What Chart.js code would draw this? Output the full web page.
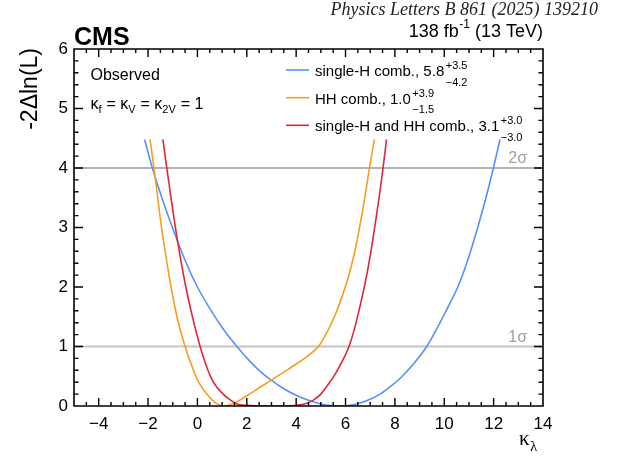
<!DOCTYPE html>
<html><head><meta charset="utf-8">
<script src="https://cdn.jsdelivr.net/npm/chart.js@4"></script>
<style>html,body{margin:0;padding:0;background:#fff}#wrap{width:617px;height:456px}</style>
</head><body><div id="wrap"><canvas id="c" width="617" height="456"></canvas></div>
<script>
const xTicks = [-4,-2,0,2,4,6,8,10,12,14];
const yTicks = [0,1,2,3,4,5,6];
const sigmaLevels = [1,4];
const sigmaLabels = ['1σ','2σ'];

const singleHX = [-2.14,-1.84,-1.4,-0.95,-0.5,0.0,0.5,1.0,1.6,2.13,2.6,3.0,3.5,4.0,4.5,5.0,5.4,5.8,6.3,6.8,7.4,7.8,8.3,8.8,9.29,9.7,10.1,10.57,10.95,11.34,11.67,11.99,12.26];
const singleHY = [4.48,4.02,3.45,2.93,2.45,2.0,1.64,1.32,1.0,0.75,0.56,0.43,0.29,0.18,0.095,0.035,0.008,0.0,0.02,0.08,0.2,0.32,0.5,0.73,1.0,1.3,1.62,2.02,2.45,2.98,3.47,4.0,4.48];
const hhX = [-1.92,-1.76,-1.46,-1.25,-1.07,-0.8,-0.5,-0.25,-0.02,0.2,0.38,0.6,0.8,1.0,1.2,1.45,1.8,2.13,2.54,3.01,3.5,4.02,4.5,4.9,5.2,5.58,5.85,6.09,6.35,6.56,6.76,6.97,7.17];
const hhY = [4.48,4.0,3.02,2.45,2.0,1.45,1.0,0.7,0.46,0.3,0.2,0.1,0.035,0.0,0.008,0.04,0.12,0.205,0.315,0.44,0.57,0.71,0.85,1.0,1.2,1.53,1.83,2.13,2.55,2.98,3.45,4.0,4.48];
const combX = [-1.40,-1.24,-1.07,-0.90,-0.70,-0.47,-0.18,0.11,0.33,0.56,0.78,0.99,1.3,1.6,2.0,2.5,3.1,3.7,4.1,4.43,4.7,5.0,5.24,5.5,5.8,6.14,6.35,6.52,6.82,7.03,7.18,7.36,7.52,7.66];
const combY = [4.48,4.0,3.5,3.02,2.52,2.0,1.46,1.0,0.71,0.47,0.32,0.22,0.11,0.035,0.01,0.002,0.0,0.003,0.015,0.045,0.1,0.2,0.33,0.48,0.7,1.0,1.28,1.56,2.12,2.6,3.0,3.5,4.0,4.48];

const legendNames = ['single-H comb., 5.8','HH comb., 1.0','single-H and HH comb., 3.1'];
const errUp = ['+3.5','+3.9','+3.0'];
const errDown = ['\u22124.2','\u22121.5','\u22123.0'];
const colors = {singleH:'#5790fc', hh:'#f89c20', comb:'#e42536'};

const FONT = '"Liberation Sans", Arial, Helvetica, sans-serif';
const SERIF = '"Liberation Serif", "Times New Roman", serif';
const pts = (xs, ys) => xs.map((x,i)=>({x, y: ys[i]}));

const curveDatasets = [
  {label:'comb', data: pts(combX, combY), borderColor: colors.comb},
  {label:'hh', data: pts(hhX, hhY), borderColor: colors.hh},
  {label:'singleH', data: pts(singleHX, singleHY), borderColor: colors.singleH},
].map(d => Object.assign(d, {borderWidth:1.6, pointRadius:0, fill:false, cubicInterpolationMode:'monotone'}));
const legendOrder = ['singleH','hh','comb'];

const sigmaDatasets = sigmaLevels.map((lv, i) => ({
  label: sigmaLabels[i], data: [{x:-5,y:lv},{x:14,y:lv}],
  borderColor: lv === 4 ? '#9c9c9c' : '#c4c4c4', borderWidth: lv === 4 ? 1.3 : 2, pointRadius:0, tension:0
}));

function drawFrame(chart) {
  const ctx = chart.ctx;
  const xs = chart.scales.x, ys = chart.scales.y;
  const L = xs.getPixelForValue(-5), R = xs.getPixelForValue(14);
  const T = ys.getPixelForValue(6), B = ys.getPixelForValue(0);
  ctx.save();
  ctx.strokeStyle = '#000000';
  ctx.setLineDash([]);
  ctx.lineWidth = 1.4;
  ctx.beginPath();
  for (let k = 1; k < 38; k++) {
    const v = -5 + k * 0.5;
    const px = xs.getPixelForValue(v);
    const len = xTicks.indexOf(v) >= 0 ? 8 : 4;
    ctx.moveTo(px, B); ctx.lineTo(px, B - len);
    ctx.moveTo(px, T); ctx.lineTo(px, T + len);
  }
  for (let k = 1; k < 30; k++) {
    const py = ys.getPixelForValue(k * 0.2);
    const len = (k % 5 === 0) ? 9 : 4.5;
    ctx.moveTo(L, py); ctx.lineTo(L + len, py);
    ctx.moveTo(R, py); ctx.lineTo(R - len, py);
  }
  ctx.stroke();
  ctx.lineWidth = 1.6;
  ctx.beginPath();
  ctx.moveTo(L, T); ctx.lineTo(R, T); ctx.lineTo(R, B); ctx.lineTo(L, B); ctx.closePath();
  ctx.stroke();
  ctx.restore();
}

function txt(ctx, s, x, y, font, color, align) {
  ctx.font = font; ctx.fillStyle = color || '#000'; ctx.textAlign = align || 'left'; ctx.textBaseline = 'alphabetic';
  ctx.fillText(s, x, y);
  return ctx.measureText(s).width;
}

const decorations = {
  id: 'decorations',
  afterDraw(chart) {
    const ctx = chart.ctx;
    drawFrame(chart);
    const ys = chart.scales.y;
    sigmaLevels.forEach((lv, i) => {
      txt(ctx, sigmaLabels[i], 527, ys.getPixelForValue(lv) - 5, '16px ' + FONT, '#a0a0a0', 'right');
    });
    txt(ctx, 'Physics Letters B 861 (2025) 139210', 598, 15, 'italic 18px ' + SERIF, '#222', 'right');
    txt(ctx, 'CMS', 74, 45, 'bold 25px ' + FONT, '#000', 'left');
    ctx.font = '18px ' + FONT;
    const p3 = ' (13 TeV)', p1 = '138 fb';
    const w3 = ctx.measureText(p3).width, w1 = ctx.measureText(p1).width;
    ctx.font = '12px ' + FONT;
    const w2 = ctx.measureText('-1').width;
    const xr = 543 - w3;
    txt(ctx, p3, xr, 36.7, '18px ' + FONT);
    txt(ctx, '-1', xr - w2, 27.5, '12px ' + FONT);
    txt(ctx, p1, xr - w2 - w1 - 0.5, 36.7, '18px ' + FONT);
    ctx.save();
    ctx.translate(37, 48); ctx.rotate(-Math.PI / 2);
    txt(ctx, '-2\u0394ln(L)', 0, 0, '23px ' + FONT, '#000', 'right');
    ctx.restore();
    const wk = txt(ctx, '\u03BA', 519, 445, '21px ' + SERIF);
    txt(ctx, '\u03BB', 519 + wk + 0.5, 451, '15px ' + SERIF);
    txt(ctx, 'Observed', 90.5, 80, '16px ' + FONT);
    let x = 90.5; const by = 108.5, sb = 112.5;
    const parts = [['\u03BA',0],['f',1],[' = \u03BA',0],['V',1],[' = \u03BA',0],['2V',1],[' = 1',0]];
    parts.forEach(([s, sub]) => {
      x += txt(ctx, s, x, sub ? sb : by, (sub ? '11px ' : '16px ') + FONT) + (sub ? 0.5 : 0);
    });
    const rowsY = [70, 97.7, 125.3];
    legendOrder.forEach((key, i) => {
      const ds = chart.data.datasets.find(d => d.label === key);
      const y = rowsY[i];
      ctx.save();
      ctx.strokeStyle = ds.borderColor; ctx.lineWidth = 1.6;
      ctx.beginPath(); ctx.moveTo(286, y); ctx.lineTo(309, y); ctx.stroke();
      ctx.restore();
      const w = txt(ctx, legendNames[i], 315, y + 6, '15px ' + FONT);
      txt(ctx, errUp[i], 315 + w + 1.5, y - 1, '11px ' + FONT);
      txt(ctx, errDown[i], 315 + w + 1.5, y + 15.7, '11px ' + FONT);
    });
  }
};

new Chart(document.getElementById('c'), {
  type: 'line',
  data: { datasets: curveDatasets.concat(sigmaDatasets) },
  options: {
    responsive: false, animation: false, devicePixelRatio: 1,
    layout: { padding: { left: 0, right: 74, top: 49, bottom: 0 } },
    plugins: { legend: { display: false }, tooltip: { enabled: false } },
    scales: {
      x: {
        type: 'linear', min: -5, max: 14,
        afterFit(s) { s.height = 50; },
        afterBuildTicks(s) { s.ticks = xTicks.map(v => ({ value: v })); },
        grid: { display: false, drawTicks: false }, border: { display: false },
        ticks: { autoSkip: false, maxRotation: 0, padding: 8, color: '#000', font: { family: FONT, size: 17 },
          callback: v => String(v).replace('-', '\u2212') }
      },
      y: {
        type: 'linear', min: 0, max: 6,
        afterFit(s) { s.width = 74; },
        afterBuildTicks(s) { s.ticks = yTicks.map(v => ({ value: v })); },
        grid: { display: false, drawTicks: false }, border: { display: false },
        ticks: { padding: 6, color: '#000', font: { family: FONT, size: 17 } }
      }
    }
  },
  plugins: [decorations]
});
</script></body></html>
